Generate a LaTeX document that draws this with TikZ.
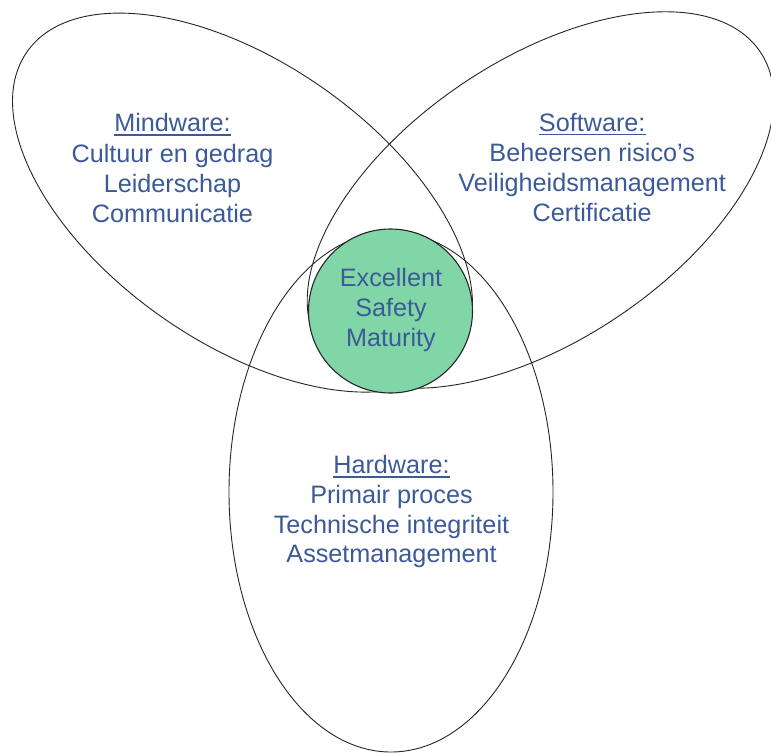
\documentclass[tikz,border=0pt]{standalone}
\usepackage{fontspec}
\setmainfont{Liberation Sans}
\definecolor{txt}{RGB}{60,90,152}
\definecolor{mint}{RGB}{128,214,166}
\begin{document}
\begin{tikzpicture}[x=1pt,y=-1pt,
  shapeline/.style={draw=black!85, line width=0.9pt},
  lbl/.style={inner sep=0pt, anchor=base, text=txt, font=\fontsize{25.2}{30}\selectfont},
  uline/.style={draw=txt, line width=1.3pt}]
\useasboundingbox (0,0) rectangle (771,753);
\fill[white] (0,0) rectangle (771,753);
% Mindware ellipse
\draw[shapeline, rotate around={-35:(242.5,202.6)}] (242.5,202.6) ellipse [x radius=263pt, y radius=140pt];
% Software ellipse
\draw[shapeline, rotate around={34:(540.5,200)}] (540.5,200) ellipse [x radius=265pt, y radius=140pt];
% Hardware ellipse
\draw[shapeline] (391,492) ellipse [x radius=162pt, y radius=260pt];
% core circle
\node[circle, fill=mint, draw=black!85, line width=1.1pt, minimum size=164pt, inner sep=0pt] (core) at (390.5,311) {};
% Mindware text
\node[lbl] (mT) at (172.5,131.5) {Mindware:};
\node[lbl] (m1) at (172.5,162) {Cultuur en gedrag};
\node[lbl] (m2) at (172.5,192) {Leiderschap};
\node[lbl] (m3) at (172.5,222) {Communicatie};
\draw[uline] ([yshift=-3.5pt]mT.base west) -- ([yshift=-3.5pt]mT.base east);
% Software text
\node[lbl] (sT) at (592.2,131) {Software:};
\node[lbl] (s1) at (592.2,161) {Beheersen risico’s};
\node[lbl] (s2) at (592.2,191) {Veiligheidsmanagement};
\node[lbl] (s3) at (592.2,221.5) {Certificatie};
\draw[uline] ([yshift=-3.5pt]sT.base west) -- ([yshift=-3.5pt]sT.base east);
% Hardware text
\node[lbl] (hT) at (391.5,473.5) {Hardware:};
\node[lbl] (h1) at (391.5,503.5) {Primair proces};
\node[lbl] (h2) at (391.5,533.2) {Technische integriteit};
\node[lbl] (h3) at (391.5,562.7) {Assetmanagement};
\draw[uline] ([yshift=-3.5pt]hT.base west) -- ([yshift=-3.5pt]hT.base east);
% Core text
\node[lbl] (c1) at (391,286) {Excellent};
\node[lbl] (c2) at (391,316) {Safety};
\node[lbl] (c3) at (391,346.5) {Maturity};
\end{tikzpicture}
\end{document}
